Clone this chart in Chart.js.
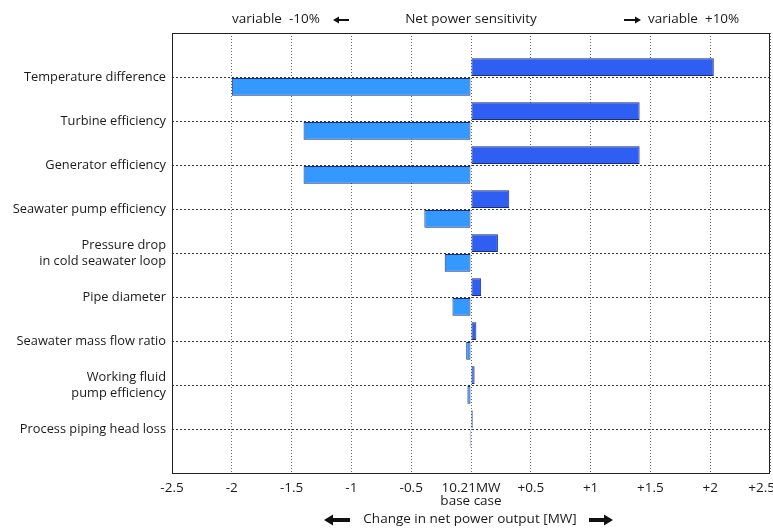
<!DOCTYPE html>
<html>
<head>
<meta charset="utf-8">
<script src="https://cdn.jsdelivr.net/npm/chart.js@4/dist/chart.umd.min.js"></script>
<style>
  html, body { margin: 0; padding: 0; background: #fff; }
  #wrap { width: 773px; height: 530px; }
</style>
</head>
<body>
<div id="wrap"><canvas id="c" width="773" height="530"></canvas></div>
<script>
const categories = [
  'Temperature difference',
  'Turbine efficiency',
  'Generator efficiency',
  'Seawater pump efficiency',
  ['Pressure drop', 'in cold seawater loop'],
  'Pipe diameter',
  'Seawater mass flow ratio',
  ['Working fluid', 'pump efficiency'],
  'Process piping head loss'
];
const plus10 = [2.03, 1.41, 1.41, 0.32, 0.225, 0.085, 0.045, 0.03, 0.014];
const minus10 = [-2.0, -1.40, -1.40, -0.39, -0.22, -0.155, -0.04, -0.03, -0.01];
const xTicks = [-2.5, -2, -1.5, -1, -0.5, 0, 0.5, 1, 1.5, 2, 2.5];
const baseCaseLabel = ['10.21MW', 'base case'];

const FONT = "'Open Sans', 'Noto Sans', sans-serif";
const TXT = '#1a1a1a';
const labels = [''].concat(categories, ['']);
const pad = arr => [null].concat(arr, [null]);
const fmt = v => v === 0 ? baseCaseLabel : (v > 0 ? '+' + v : String(v));

function arrow(ctx, x1, x2, y, thick, head) {
  const dir = Math.sign(x2 - x1);
  ctx.save();
  ctx.fillStyle = '#111';
  ctx.fillRect(Math.min(x1, x2 - dir * head), y - thick / 2, Math.abs(x2 - dir * head - x1), thick);
  ctx.beginPath();
  ctx.moveTo(x2, y);
  ctx.lineTo(x2 - dir * head, y - head * 0.6);
  ctx.lineTo(x2 - dir * head, y + head * 0.6);
  ctx.closePath();
  ctx.fill();
  ctx.restore();
}

const decor = {
  id: 'decor',
  afterDraw(chart) {
    const ctx = chart.ctx;
    const a = chart.chartArea;
    const xs = chart.scales.x;
    ctx.save();
    ctx.strokeStyle = '#222';
    ctx.lineWidth = 1;
    ctx.strokeRect(Math.round(a.left) + 0.5, Math.round(a.top) + 0.5, Math.round(a.right - a.left) - 1, Math.round(a.bottom - a.top));
    ctx.fillStyle = TXT;
    ctx.font = '13.5px ' + FONT;
    ctx.textBaseline = 'middle';
    const ty = 19;
    ctx.textAlign = 'center';
    ctx.fillText('Net power sensitivity', xs.getPixelForValue(0), ty);
    ctx.textAlign = 'left';
    ctx.fillText('variable  -10%', 232, ty);
    arrow(ctx, 349, 333, ty + 1, 2, 6);
    arrow(ctx, 624, 641, ty + 1, 2, 6);
    ctx.fillText('variable  +10%', 648, ty);
    // last x tick label, kept inside the canvas as in the reference
    ctx.textAlign = 'right';
    ctx.textBaseline = 'top';
    const lastV = xTicks[xTicks.length - 1];
    ctx.fillText(fmt(lastV), Math.min(xs.getPixelForValue(lastV) + 16, 775), xs.top + 8);
    // bottom title
    ctx.textBaseline = 'middle';
    ctx.textAlign = 'center';
    const cx = xs.getPixelForValue(0);
    ctx.fillText('Change in net power output [MW]', cx - 1, 519);
    arrow(ctx, 350, 324, 520, 4, 9);
    arrow(ctx, 589, 613, 520, 4, 9);
    ctx.restore();
  }
};

new Chart(document.getElementById('c'), {
  type: 'bar',
  data: {
    labels: labels,
    datasets: [
      {
        label: 'variable +10%',
        data: pad(plus10),
        backgroundColor: '#2F5EF2',
        borderColor: '#1E2D78',
        borderWidth: 1,
        borderSkipped: false,
        barPercentage: 0.9,
        categoryPercentage: 0.9
      },
      {
        label: 'variable -10%',
        data: pad(minus10),
        backgroundColor: '#3399FF',
        borderColor: '#1E2D78',
        borderWidth: 1,
        borderSkipped: false,
        barPercentage: 0.9,
        categoryPercentage: 0.9
      }
    ]
  },
  options: {
    indexAxis: 'y',
    responsive: false,
    animation: false,
    layout: { padding: { top: 33, right: 3, left: 0, bottom: 0 } },
    plugins: { legend: { display: false }, tooltip: { enabled: false } },
    scales: {
      x: {
        type: 'linear',
        min: -2.5,
        max: 2.5,
        afterBuildTicks(scale) { scale.ticks = xTicks.map(v => ({ value: v })); },
        afterFit(scale) { scale.height = 57; scale.paddingLeft = 0; scale.paddingRight = 0; },
        border: { display: false, dash: [1, 2] },
        grid: {
          color: '#666',
          lineWidth: 1,
          drawTicks: false
        },
        ticks: {
          padding: 8,
          color: TXT,
          font: { family: FONT, size: 13.5, lineHeight: 1.0 },
          maxRotation: 0,
          autoSkip: false,
          callback(v, i, arr) {
            if (i === arr.length - 1) return '';
            return fmt(v);
          }
        }
      },
      y: {
        type: 'category',
        offset: false,
        afterFit(scale) { scale.width = 172; },
        border: { display: false, dash: [2, 2] },
        grid: {
          offset: false,
          color: (c) => (c.index === 0 || c.index === labels.length - 1) ? 'rgba(0,0,0,0)' : '#333',
          drawTicks: false
        },
        ticks: {
          padding: 6,
          color: TXT,
          autoSkip: false,
          font: { family: FONT, size: 12.8, lineHeight: 1.25 }
        }
      }
    }
  },
  plugins: [decor]
});
</script>
</body>
</html>
